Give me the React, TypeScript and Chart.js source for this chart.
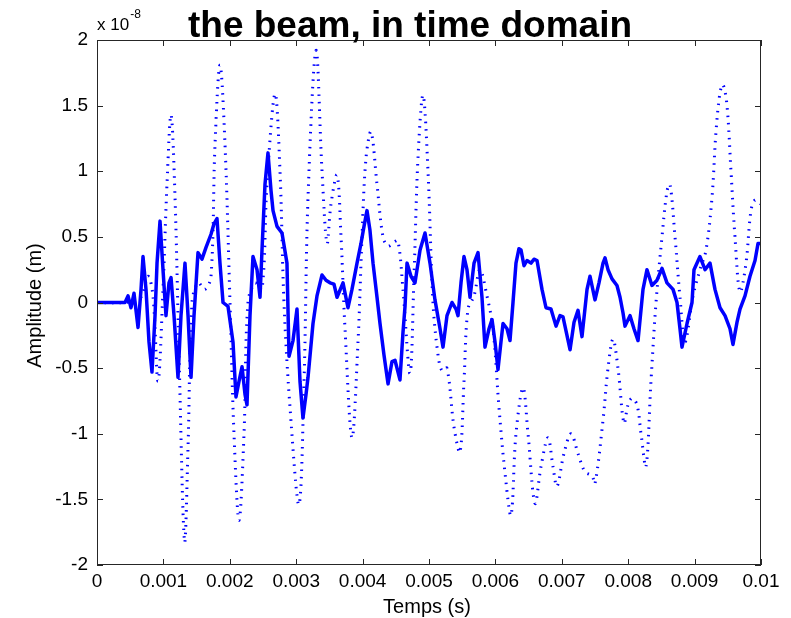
import React, { useEffect, useRef } from "react";
import { Chart, registerables } from "chart.js";

Chart.register(...registerables);

// Time in milliseconds, amplitude in units of 1e-8 m
const SOLID_TIME_MS = [
  0, 0.422, 0.467, 0.512, 0.557, 0.618, 0.663, 0.693, 0.738, 0.783,
  0.828, 0.874, 0.904, 0.949, 0.994, 1.039, 1.084, 1.115, 1.160, 1.220,
  1.265, 1.325, 1.371, 1.416, 1.461, 1.521, 1.581, 1.642, 1.717, 1.762,
  1.807, 1.852, 1.898, 1.973, 2.048, 2.093, 2.139, 2.184, 2.229, 2.259,
  2.304, 2.349, 2.410, 2.455, 2.485, 2.530, 2.575, 2.621, 2.651, 2.711,
  2.786, 2.861, 2.892, 2.952, 3.012, 3.057, 3.102, 3.148, 3.178, 3.253,
  3.313, 3.389, 3.449, 3.509, 3.569, 3.615, 3.705, 3.780, 3.840, 3.916,
  3.976, 4.021, 4.066, 4.111, 4.157, 4.217, 4.262, 4.322, 4.383, 4.443,
  4.488, 4.563, 4.608, 4.639, 4.669, 4.729, 4.789, 4.865, 4.940, 5.015,
  5.090, 5.166, 5.211, 5.271, 5.346, 5.407, 5.437, 5.482, 5.527, 5.572,
  5.618, 5.678, 5.738, 5.798, 5.843, 5.904, 5.949, 5.994, 6.039, 6.084,
  6.115, 6.175, 6.220, 6.265, 6.310, 6.355, 6.386, 6.431, 6.476, 6.536,
  6.581, 6.627, 6.702, 6.762, 6.837, 6.913, 6.973, 7.018, 7.078, 7.124,
  7.184, 7.244, 7.304, 7.380, 7.425, 7.500, 7.560, 7.621, 7.651, 7.696,
  7.756, 7.831, 7.877, 7.922, 7.952, 8.027, 8.087, 8.148, 8.223, 8.283,
  8.358, 8.434, 8.509, 8.584, 8.675, 8.735, 8.780, 8.810, 8.886, 8.961,
  8.991, 9.081, 9.157, 9.232, 9.307, 9.383, 9.458, 9.533, 9.578, 9.639,
  9.684, 9.759, 9.834, 9.910, 9.955, 10.0,
];
const SOLID_AMP = [
  0, 0, 0.05, -0.04, 0.07, -0.19, 0.1, 0.35, 0.1, -0.3,
  -0.53, -0.1, 0.3, 0.62, 0.25, -0.1, 0.15, 0.19, -0.1, -0.57,
  -0.1, 0.3, -0.1, -0.57, -0.1, 0.38, 0.33, 0.42, 0.52, 0.6,
  0.64, 0.3, 0.0, -0.03, -0.3, -0.72, -0.6, -0.49, -0.7, -0.78,
  -0.1, 0.35, 0.25, 0.04, 0.4, 0.9, 1.14, 0.85, 0.7, 0.58,
  0.53, 0.3, -0.41, -0.29, -0.05, -0.6, -0.88, -0.7, -0.57, -0.16,
  0.05, 0.21, 0.17, 0.15, 0.14, 0.04, 0.15, -0.04, 0.1, 0.3,
  0.45, 0.58, 0.7, 0.55, 0.3, 0.04, -0.16, -0.4, -0.62, -0.45,
  -0.44, -0.59, -0.23, -0.03, 0.3, 0.2, 0.15, 0.4, 0.53, 0.3,
  0.02, -0.2, -0.34, -0.1, 0.0, -0.05, -0.1, 0.15, 0.35, 0.25,
  0.04, 0.3, 0.38, 0.04, -0.34, -0.2, -0.13, -0.3, -0.51, -0.3,
  -0.16, -0.2, -0.29, 0.0, 0.3, 0.41, 0.4, 0.28, 0.32, 0.3,
  0.33, 0.32, 0.1, -0.04, -0.05, -0.18, -0.1, -0.11, -0.25, -0.36,
  -0.15, -0.06, -0.26, 0.1, 0.2, 0.02, 0.15, 0.3, 0.34, 0.25,
  0.18, 0.13, 0.04, -0.08, -0.18, -0.1, -0.2, -0.29, 0.1, 0.25,
  0.13, 0.17, 0.26, 0.15, 0.1, 0.0, -0.2, -0.34, -0.16, 0.0,
  0.25, 0.35, 0.25, 0.3, 0.1, -0.04, -0.1, -0.2, -0.32, -0.15,
  -0.05, 0.05, 0.2, 0.32, 0.45, 0.45,
];

const DOTTED_TIME_MS = [
  0, 0.422, 0.648, 0.768, 0.843, 0.919, 0.994, 1.054, 1.115, 1.175,
  1.235, 1.318, 1.371, 1.431, 1.521, 1.627, 1.717, 1.777, 1.852, 1.928,
  2.003, 2.063, 2.139, 2.214, 2.274, 2.380, 2.485, 2.560, 2.681, 2.756,
  2.816, 2.907, 3.042, 3.118, 3.178, 3.298, 3.389, 3.464, 3.524, 3.615,
  3.675, 3.735, 3.840, 3.931, 3.991, 4.051, 4.127, 4.217, 4.307, 4.383,
  4.473, 4.533, 4.608, 4.714, 4.774, 4.834, 4.910, 4.985, 5.060, 5.136,
  5.196, 5.271, 5.377, 5.467, 5.527, 5.587, 5.678, 5.768, 5.873, 5.964,
  6.054, 6.145, 6.235, 6.310, 6.416, 6.491, 6.596, 6.687, 6.792, 6.867,
  6.928, 7.033, 7.139, 7.244, 7.349, 7.455, 7.500, 7.620, 7.696, 7.771,
  7.846, 7.937, 7.997, 8.057, 8.133, 8.193, 8.268, 8.343, 8.419, 8.509,
  8.585, 8.630, 8.705, 8.780, 8.855, 8.976, 9.081, 9.172, 9.262, 9.322,
  9.383, 9.428, 9.488, 9.548, 9.608, 9.684, 9.774, 9.849, 9.910, 10.0,
];
const DOTTED_AMP = [
  0, 0, 0.03, 0.2, 0.05, -0.6, 0.1, 0.9, 1.43, 0.8,
  -0.4, -1.82, -1.1, 0.0, 0.15, 0.1, 0.2, 1.2, 1.81, 1.2,
  0.0, -1.0, -1.66, -1.0, 0.0, 0.15, 0.1, 0.9, 1.59, 1.0,
  0.0, -0.8, -1.54, -0.6, 0.8, 1.92, 1.0, 0.45, 0.75, 0.97,
  0.5, -0.2, -1.03, -0.3, 0.5, 1.1, 1.3, 0.9, 0.5, 0.43,
  0.46, 0.47, 0.1, -0.54, 0.2, 1.1, 1.58, 1.0, 0.0, -0.4,
  -0.52, -0.5, -0.95, -1.14, -0.6, -0.05, 0.05, 0.25, 0.05, -0.2,
  -0.8, -1.3, -1.62, -1.0, -0.65, -1.0, -1.53, -1.25, -1.03, -1.25,
  -1.4, -1.15, -1.0, -1.15, -1.29, -1.32, -1.38, -0.9, -0.5, -0.28,
  -0.5, -0.92, -0.78, -0.73, -0.78, -1.0, -1.25, -0.6, 0.0, 0.5,
  0.85, 0.9, 0.5, 0.04, -0.3, 0.05, 0.25, 0.4, 0.8, 1.3,
  1.6, 1.66, 1.5, 1.0, 0.5, 0.08, 0.3, 0.7, 0.78, 0.75,
];

const X_TICKS = [0, 0.001, 0.002, 0.003, 0.004, 0.005, 0.006, 0.007, 0.008, 0.009, 0.01];
const Y_TICKS = [-2, -1.5, -1, -0.5, 0, 0.5, 1, 1.5, 2];

const TITLE = "the beam, in time domain";
const X_LABEL = "Temps (s)";
const Y_LABEL = "Amplitude (m)";
const EXPONENT = "-8";

const FONT = "'Liberation Sans', Arial, Helvetica, sans-serif";

function toPoints(times: number[], amps: number[]) {
  const n = Math.min(times.length, amps.length);
  const pts = [] as { x: number; y: number }[];
  for (let i = 0; i < n; i++) pts.push({ x: times[i] / 1000, y: amps[i] });
  return pts;
}

const decorPlugin = {
  id: "matlabDecor",
  afterDraw(chart: any) {
    const { ctx, chartArea, scales } = chart;
    const { left, right, top, bottom } = chartArea;
    const xs = scales.x;
    const ys = scales.y;
    ctx.save();
    // frame
    ctx.strokeStyle = "#262626";
    ctx.lineWidth = 1;
    ctx.strokeRect(left + 0.5, top + 0.5, right - left - 1, bottom - top - 1);
    // inward ticks
    const L = 6;
    ctx.beginPath();
    xs.ticks.forEach((t: any) => {
      const px = Math.round(xs.getPixelForValue(t.value)) + 0.5;
      ctx.moveTo(px, bottom);
      ctx.lineTo(px, bottom - L);
      ctx.moveTo(px, top);
      ctx.lineTo(px, top + L);
    });
    ys.ticks.forEach((t: any) => {
      const py = Math.round(ys.getPixelForValue(t.value)) + 0.5;
      ctx.moveTo(left, py);
      ctx.lineTo(left + L, py);
      ctx.moveTo(right, py);
      ctx.lineTo(right - L, py);
    });
    ctx.stroke();

    // title
    ctx.fillStyle = "#000";
    ctx.font = `bold 37px ${FONT}`;
    ctx.textAlign = "center";
    ctx.textBaseline = "alphabetic";
    ctx.fillText(TITLE, (left + right) / 2 - 19, 37);

    // exponent label
    ctx.font = `17px ${FONT}`;
    ctx.textAlign = "left";
    ctx.fillText("x 10", left, 30);
    const w = ctx.measureText("x 10").width;
    ctx.font = `12px ${FONT}`;
    ctx.fillText(EXPONENT, left + w + 1, 18);

    // x axis label
    ctx.font = `20px ${FONT}`;
    ctx.textAlign = "center";
    ctx.fillText(X_LABEL, (left + right) / 2 - 2, 613);

    // y axis label
    ctx.save();
    ctx.translate(41, (top + bottom) / 2 + 3);
    ctx.rotate(-Math.PI / 2);
    ctx.textAlign = "center";
    ctx.fillText(Y_LABEL, 0, 0);
    ctx.restore();

    ctx.restore();
  },
};

export default function App() {
  const ref = useRef<HTMLCanvasElement | null>(null);

  useEffect(() => {
    if (!ref.current) return;
    const chart = new Chart(ref.current, {
      type: "line",
      data: {
        datasets: [
          {
            label: "solid",
            data: toPoints(SOLID_TIME_MS, SOLID_AMP),
            borderColor: "#0000ff",
            borderWidth: 3.5,
            pointRadius: 0,
            tension: 0,
            fill: false,
            borderJoinStyle: "round",
          },
          {
            label: "dotted",
            data: toPoints(DOTTED_TIME_MS, DOTTED_AMP),
            borderColor: "#0000ff",
            borderWidth: 3,
            borderDash: [1.5, 6],
            pointRadius: 0,
            tension: 0.35,
            fill: false,
          },
        ],
      },
      options: {
        animation: false,
        responsive: false,
        devicePixelRatio: 1,
        layout: { padding: { top: 40, left: 0, right: 30, bottom: 0 } },
        plugins: {
          legend: { display: false },
          tooltip: { enabled: false },
          title: { display: false },
        },
        scales: {
          x: {
            type: "linear",
            min: 0,
            max: 0.01,
            afterBuildTicks: (s: any) => {
              s.ticks = X_TICKS.map((v) => ({ value: v }));
            },
            afterFit: (s: any) => {
              s.height = 53;
            },
            grid: { display: false, drawTicks: false },
            border: { display: false },
            ticks: {
              autoSkip: false,
              maxRotation: 0,
              minRotation: 0,
              padding: 5,
              color: "#000",
              font: { family: FONT, size: 19 },
              callback: (v: any) => String(Number(Number(v).toFixed(3))),
            },
          },
          y: {
            type: "linear",
            min: -2,
            max: 2,
            afterBuildTicks: (s: any) => {
              s.ticks = Y_TICKS.map((v) => ({ value: v }));
            },
            afterFit: (s: any) => {
              s.width = 97;
            },
            grid: { display: false, drawTicks: false },
            border: { display: false },
            ticks: {
              padding: 9,
              color: "#000",
              font: { family: FONT, size: 19 },
              callback: (v: any) => String(Number(Number(v).toFixed(2))),
            },
          },
        },
      },
      plugins: [decorPlugin],
    } as any);
    return () => chart.destroy();
  }, []);

  return (
    <div style={{ position: "absolute", left: 0, top: 0, width: 791, height: 618, background: "#fff" }}>
      <canvas ref={ref} width={791} height={618} style={{ width: 791, height: 618, display: "block" }} />
    </div>
  );
}
